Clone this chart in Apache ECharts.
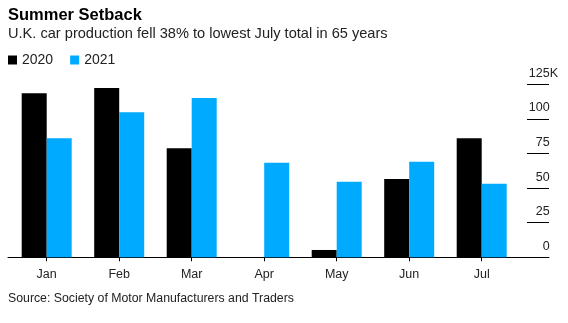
<!DOCTYPE html>
<html>
<head>
<meta charset="utf-8">
<script src="https://cdn.jsdelivr.net/npm/echarts@6/dist/echarts.min.js"></script>
<style>
  html, body { margin: 0; padding: 0; background: #fff; }
  #chart { width: 568px; height: 323px; }
</style>
</head>
<body>
<div id="chart"></div>
<script>
// Monthly UK car production, thousands of units
const months = ['Jan', 'Feb', 'Mar', 'Apr', 'May', 'Jun', 'Jul'];
const production2020 = [118.5, 122.3, 78.8, 0.2, 5.3, 56.6, 86.0];
const production2021 = [86.0, 104.8, 115.1, 68.4, 54.6, 69.1, 53.2];
const yTicks = [0, 25, 50, 75, 100, 125];

const FONT = '"Liberation Sans", Arial, Helvetica, sans-serif';
const BLUE = '#00aaff';

const chart = echarts.init(document.getElementById('chart'), null, { renderer: 'canvas' });

chart.setOption({
  animation: false,
  textStyle: { fontFamily: FONT },
  title: [
    {
      text: 'Summer Setback',
      left: 8, top: 7, padding: 0,
      textStyle: { fontSize: 16.5, fontWeight: 'bold', color: '#000', fontFamily: FONT }
    },
    {
      text: 'U.K. car production fell 38% to lowest July total in 65 years',
      left: 8, top: 26, padding: 0,
      textStyle: { fontSize: 14.6, fontWeight: 'normal', color: '#222', fontFamily: FONT }
    },
    {
      text: 'Source: Society of Motor Manufacturers and Traders',
      left: 8, top: 293, padding: 0,
      textStyle: { fontSize: 12.3, fontWeight: 'normal', color: '#222', fontFamily: FONT }
    }
  ],
  legend: {
    left: 8, top: 53, padding: 0,
    itemWidth: 9, itemHeight: 9, itemGap: 17,
    icon: 'rect',
    textStyle: { fontSize: 14, color: '#222', fontFamily: FONT },
    data: ['2020', '2021']
  },
  grid: [
    { left: 10.45, right: 50.05, top: 84.3, bottom: 65.7 },
    { left: 8, right: 19, top: 84.3, bottom: 65.7 }
  ],
  xAxis: [
    {
      type: 'category', gridIndex: 0, data: months,
      axisLine: { show: true, lineStyle: { color: '#000', width: 1 } },
      axisTick: { show: true, alignWithLabel: true, length: 4, lineStyle: { color: '#000' } },
      axisLabel: { margin: 11, fontSize: 12.5, color: '#222', fontFamily: FONT },
      splitLine: { show: false }
    },
    {
      type: 'value', gridIndex: 1, min: 0, max: 1,
      axisLine: { show: true, onZero: false, lineStyle: { color: '#000', width: 1 } },
      axisTick: { show: false }, axisLabel: { show: false }, splitLine: { show: false }
    }
  ],
  yAxis: [
    { type: 'value', gridIndex: 0, min: 0, max: 125, show: false },
    {
      type: 'value', gridIndex: 1, position: 'right',
      min: 0, max: 125, interval: 25,
      axisLine: { show: false, onZero: false },
      axisTick: { show: true, inside: true, length: 22, lineStyle: { color: '#000', width: 1 } },
      splitLine: { show: false },
      axisLabel: {
        align: 'right', verticalAlign: 'bottom', margin: 9,
        fontSize: 12.5, color: '#222', fontFamily: FONT, lineHeight: 14,
        padding: [0, 0, 4, 0],
        formatter: v => (v === yTicks[yTicks.length - 1] ? v + '{k|K}' : v + '{t|K}'),
        rich: {
          k: { fontSize: 12.5, color: '#222', fontFamily: FONT, lineHeight: 14 },
          t: { fontSize: 12.5, color: 'transparent', fontFamily: FONT, lineHeight: 14 }
        }
      }
    }
  ],
  series: [
    {
      name: '2020', type: 'bar', xAxisIndex: 0, yAxisIndex: 0,
      data: production2020, barWidth: 25, barGap: '0%',
      itemStyle: { color: '#000' }
    },
    {
      name: '2021', type: 'bar', xAxisIndex: 0, yAxisIndex: 0,
      data: production2021, barWidth: 25, barGap: '0%',
      itemStyle: { color: BLUE }
    }
  ]
});
</script>
</body>
</html>
